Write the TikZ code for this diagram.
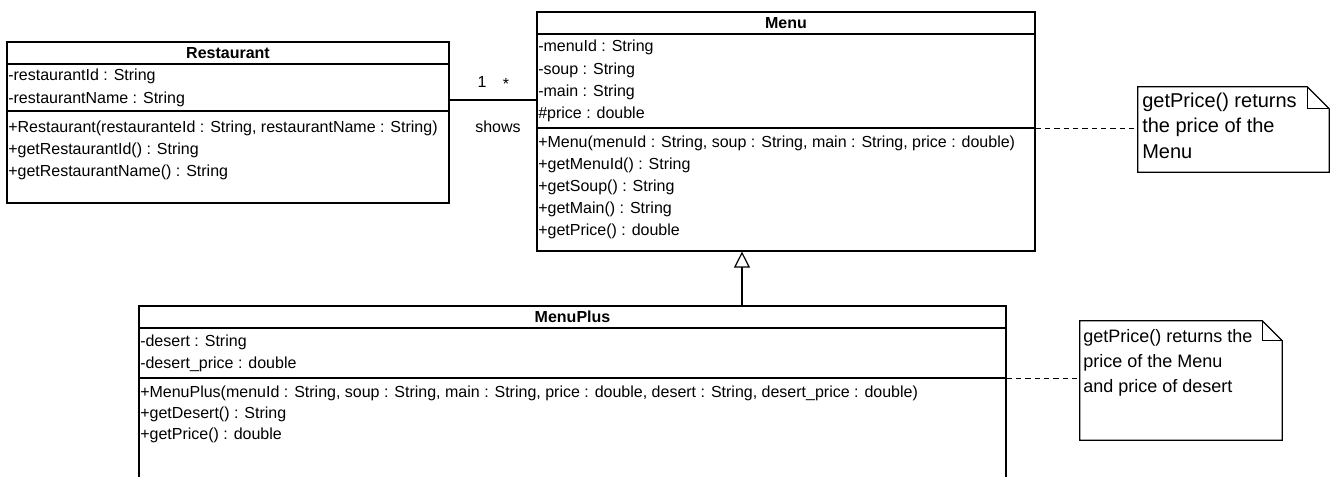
\documentclass[tikz,border=0pt]{standalone}
\usepackage{fontspec}
\setmainfont{Liberation Sans}
\usetikzlibrary{positioning,fit,arrows.meta}

\tikzset{
  classbox/.style={draw, inner sep=0pt, line width=0.9pt},
  member/.style={anchor=west, inner sep=0pt, font=\fontsize{12}{14}\selectfont},
  notetext/.style={anchor=west, inner sep=0pt, font=\fontsize{#1}{16}\selectfont},
  notetext/.default=13.5,
  classname/.style={inner sep=0pt, font=\bfseries\fontsize{12}{14}\selectfont},
  notebox/.style={inner sep=0pt},
  notepath/.style={line width=0.9pt},
  notelink/.style={line width=0.7pt, dash pattern=on 4pt off 3pt},
  inherit/.style={line width=0.9pt, -{Triangle[open, length=12pt, width=12pt]}},
}

\begin{document}
\begin{tikzpicture}[x=0.75pt, y=-0.75pt]
        \useasboundingbox (0,0) rectangle (1332,477);
        \clip (0,0) rectangle (1332,477);

        % Restaurant
        \node[classbox, fit={(7,42) (449,203)}] (restaurant) {};
        \draw[line width=0.9pt] (restaurant.west |- 0,64) -- (restaurant.east |- 0,64);
        \draw[line width=0.9pt] (restaurant.west |- 0,111) -- (restaurant.east |- 0,111);
        \node[classname] (rname) at (restaurant.north |- 0,53) {Restaurant};
        \node[member] (ra1) at (8,76) {-restaurantId : String};
        \node[member] (ra2) at (8,99) {-restaurantName : String};
        \node[member] (rm1) at (8,128) {+Restaurant(restauranteId : String, restaurantName : String)};
        \node[member] (rm2) at (8,150) {+getRestaurantId() : String};
        \node[member] (rm3) at (8,172) {+getRestaurantName() : String};

        % Menu
        \node[classbox, fit={(537,12) (1035,251)}] (menu) {};
        \draw[line width=0.9pt] (menu.west |- 0,34) -- (menu.east |- 0,34);
        \draw[line width=0.9pt] (menu.west |- 0,128) -- (menu.east |- 0,128);
        \node[classname] (mname) at (menu.north |- 0,23) {Menu};
        \node[member] (ma1) at (538,47) {-menuId : String};
        \node[member] (ma2) at (538,70) {-soup : String};
        \node[member] (ma3) at (538,92) {-main : String};
        \node[member] (ma4) at (538,114) {\#price : double};
        \node[member] (mm1) at (538,143) {+Menu(menuId : String, soup : String, main : String, price : double)};
        \node[member] (mm2) at (538,165) {+getMenuId() : String};
        \node[member] (mm3) at (538,187) {+getSoup() : String};
        \node[member] (mm4) at (538,209) {+getMain() : String};
        \node[member] (mm5) at (538,231) {+getPrice() : double};

        % MenuPlus
        \node[classbox, fit={(139,306) (1006,495)}] (menuplus) {};
        \draw[line width=0.9pt] (menuplus.west |- 0,328) -- (menuplus.east |- 0,328);
        \draw[line width=0.9pt] (menuplus.west |- 0,378) -- (menuplus.east |- 0,378);
        \node[classname] (pname) at (menuplus.north |- 0,317) {MenuPlus};
        \node[member] (pa1) at (140,342) {-desert : String};
        \node[member] (pa2) at (140,364) {-desert\_price : double};
        \node[member] (pm1) at (140,393) {+MenuPlus(menuId : String, soup : String, main : String, price : double, desert : String, desert\_price : double)};
        \node[member] (pm2) at (140,414) {+getDesert() : String};
        \node[member] (pm3) at (140,435) {+getPrice() : double};

        % notes
        \node[notebox, fit={(1138,87) (1329,172)}] (note1) {};
        \draw[notepath] (note1.north west) -- ([xshift=-16.5pt]note1.north east) -- ([yshift=-16.5pt]note1.north east) -- (note1.south east) -- (note1.south west) -- cycle;
        \draw[notepath] ([xshift=-16.5pt]note1.north east) -- ([xshift=-16.5pt,yshift=-16.5pt]note1.north east) -- ([yshift=-16.5pt]note1.north east);
        \node[notetext=15] (n1a) at (1142,102) {getPrice() returns};
        \node[notetext=15] (n1b) at (1142,127) {the price of the};
        \node[notetext=15] (n1c) at (1142,152) {Menu};

        \node[notebox, fit={(1080,321) (1282,440)}] (note2) {};
        \draw[notepath] (note2.north west) -- ([xshift=-15pt]note2.north east) -- ([yshift=-15pt]note2.north east) -- (note2.south east) -- (note2.south west) -- cycle;
        \draw[notepath] ([xshift=-15pt]note2.north east) -- ([xshift=-15pt,yshift=-15pt]note2.north east) -- ([yshift=-15pt]note2.north east);
        \node[notetext] (n2a) at (1083,338) {getPrice() returns the};
        \node[notetext] (n2b) at (1083,363) {price of the Menu};
        \node[notetext] (n2c) at (1083,388) {and price of desert};

        % connectors
        \coordinate (assoc) at (0,100);
        \draw[line width=0.9pt] (restaurant.east |- assoc) -- (menu.west |- assoc);
        \node[member, anchor=center] (mult1) at (482,82) {1};
        \node[member, anchor=center] (multn) at (506,84) {*};
        \node[member, anchor=center] (shows) at (498,127) {shows};

        \coordinate (genx) at (742,0);
        \draw[inherit] (menuplus.north -| genx) -- (menu.south -| genx);

        \draw[notelink] (menu.east |- 0,128) -- (note1.west |- 0,128);
        \draw[notelink] (menuplus.east |- 0,378) -- (note2.west |- 0,378);
\end{tikzpicture}
\end{document}
